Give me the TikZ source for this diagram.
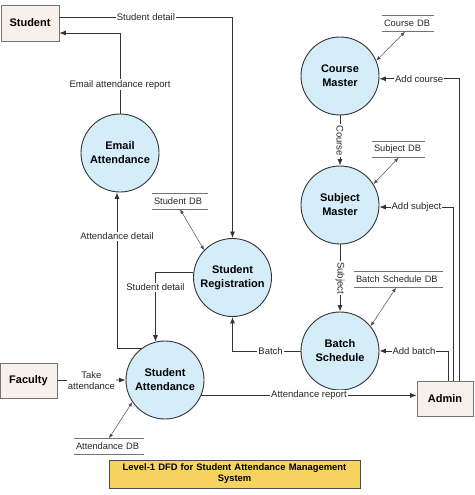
\documentclass[tikz,border=0pt]{standalone}
\usepackage{fontspec}
\setmainfont{Liberation Sans}
\usepackage{xcolor}
\usetikzlibrary{arrows.meta,positioning}

\definecolor{procfill}{HTML}{D5ECF9}
\definecolor{entfill}{HTML}{F8F0EA}
\definecolor{titlefill}{HTML}{F6D35F}
\definecolor{linegray}{HTML}{333333}

\tikzset{
  process/.style={circle, draw=linegray, line width=0.9pt, fill=procfill, minimum size=78pt, inner sep=0pt, align=center, font=\fontsize{11}{14}\selectfont\bfseries},
  entity/.style={rectangle, draw=black!55, line width=0.7pt, fill=entfill, minimum width=57pt, minimum height=35pt, font=\fontsize{11}{13}\selectfont\bfseries},
  store/.style={inner xsep=2pt, inner ysep=0pt, minimum height=16pt, font=\fontsize{9.3}{11}\selectfont, text=black!85},
  storeline/.style={draw=black!55, line width=0.6pt},
  flow/.style={->, draw=linegray, line width=0.8pt},
  dblink/.style={>={Latex[length=4.5pt,width=3.5pt]}, <->, draw=black!70, line width=0.5pt},
  lbl/.style={fill=white, inner sep=1pt, font=\fontsize{9.5}{11}\selectfont, text=black!85},
}

\begin{document}
\begin{tikzpicture}[x=1pt, y=-1pt, >={Latex[length=6.5pt,width=5pt]}]
\useasboundingbox (0,0) rectangle (474,495);

% external entities
\node (student) [entity, minimum width=58pt, minimum height=36pt] at (30,23) {Student};
\node (faculty) [entity] at (28.5,380.5) {Faculty};
\node (admin) [entity, minimum width=56pt] at (445,398.5) {Admin};

% processes
\node (email) [process] at (120,153) {Email\\Attendance};
\node (stureg) [process] at (232.5,277.5) {Student\\Registration};
\node (stuatt) [process] at (165,380) {Student\\Attendance};
\node (course) [process] at (340,76) {Course\\Master};
\node (subject) [process] at (340,205) {Subject\\Master};
\node (batch) [process] at (340,351) {Batch\\Schedule};

% data stores
\node (cdb) [store, text width=48pt] at (408,23.5) {Course DB};
\node (sdb) [store, text width=49pt] at (398.5,149.5) {Subject DB};
\node (bdb) [store, text width=85pt] at (398.5,279.5) {Batch Schedule DB};
\node (stdb) [store, text width=52pt] at (180,201) {Student DB};
\node (adb) [store, text width=66pt] at (109,446.5) {Attendance DB};
\foreach \db in {cdb,sdb,bdb,stdb,adb}
  \draw [storeline] (\db.north west) -- (\db.north east) (\db.south west) -- (\db.south east);

% data flows
\draw [flow] ([yshift=6pt]student.east) -| node[lbl, pos=0.25] {Student detail} (stureg.north);
\draw [flow] (email.north) |- node[lbl, pos=0.18] {Email attendance report} ([yshift=-10pt]student.east);
\draw [flow] (stuatt.126) -| node[lbl, pos=0.86] {Attendance detail} ([xshift=-3pt]email.south);
\draw [flow] (stureg.172) -| node[lbl, pos=0.61] {Student detail} (stuatt.104);
\draw [flow] (batch.west) -| node[lbl, pos=0.22] {Batch} (stureg.south);
\draw [flow] (faculty.east) -- node[lbl, align=center] {Take\\attendance} (stuatt.west);
\draw [flow] (stuatt.-23) -- node[lbl] {Attendance report} (stuatt.-23 -| admin.west);
\draw [flow] ([xshift=14pt]admin.north) |- node[lbl, pos=0.75] {Add course} (course.-4);
\draw [flow] ([xshift=8.5pt]admin.north) |- node[lbl, pos=0.75] {Add subject} (subject.-3);
\draw [flow] ([xshift=3.5pt]admin.north) |- node[lbl, pos=0.75] {Add batch} (batch.east);
\draw [flow] (course.south) -- node[lbl, rotate=-90] {Course} (subject.north);
\draw [flow] (subject.south) -- node[lbl, rotate=-90] {Subject} (batch.north);

% store access
\draw [dblink] ([xshift=-3pt]cdb.south) -- (course.23);
\draw [dblink] (sdb.south) -- (subject.32);
\draw [dblink] ([xshift=-2.5pt]bdb.south) -- (batch.39);
\draw [dblink] (stdb.south) -- (stureg.136);
\draw [dblink] (adb.north) -- (stuatt.214);

% caption
\node (title) [draw=black!70, line width=0.8pt, fill=titlefill, minimum width=251pt, minimum height=28pt, text width=247pt, align=center, inner sep=1pt, font=\fontsize{9.4}{11}\selectfont\bfseries] at (234.5,474) {Level-1 DFD for Student Attendance Management\\System};
\end{tikzpicture}
\end{document}
